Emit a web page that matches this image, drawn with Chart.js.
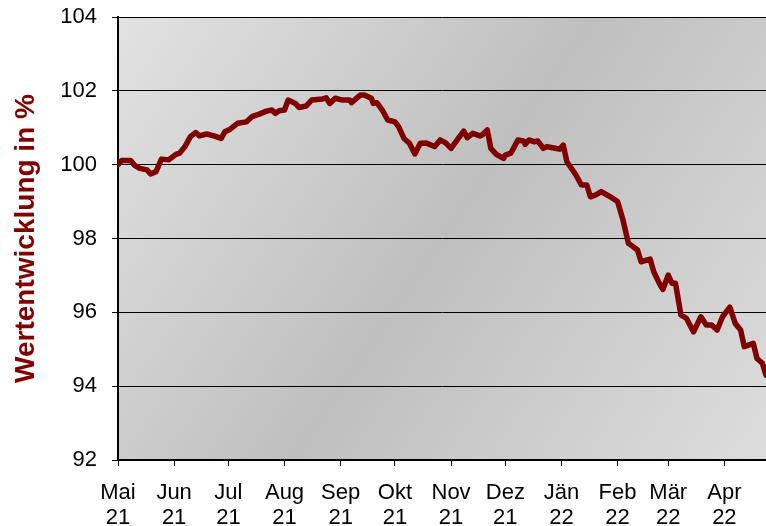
<!DOCTYPE html>
<html>
<head>
<meta charset="utf-8">
<script src="https://cdn.jsdelivr.net/npm/chart.js@4"></script>
<style>
  body { margin: 0; background: #fff; }
  #wrap { width: 766px; height: 526px; }
</style>
</head>
<body>
<div id="wrap"><canvas id="perfChart"></canvas></div>
<script>

// days since 1 May 2021
const dayOffsets = [0,2,7,9,12,16,18,21,24,28,32,34,37,40,43,45,49,53,57,59,
  62,66,71,74,78,82,85,87,89,92,94,98,100,104,107,113,115,117,120,124,
  128,129,134,136,140,141,143,146,149,153,155,158,161,164,167,170,175,178,181,184,
  188,191,193,196,200,201,204,206,209,213,214,217,219,221,224,225,227,230,232,235,
  237,240,244,246,248,253,256,259,261,264,267,272,276,279,282,284,287,289,294,296,
  299,301,304,306,308,311,314,318,322,325,328,331,334,338,341,344,346,351,353,356,358];

const values = [100.00,100.11,100.11,99.99,99.90,99.86,99.75,99.81,100.15,100.13,
  100.28,100.31,100.49,100.76,100.87,100.78,100.83,100.78,100.71,100.89,
  100.96,101.12,101.16,101.30,101.37,101.45,101.48,101.39,101.46,101.48,
  101.75,101.66,101.55,101.59,101.75,101.78,101.81,101.66,101.80,101.75,
  101.75,101.68,101.89,101.89,101.80,101.66,101.68,101.48,101.21,101.16,
  101.03,100.71,100.58,100.29,100.58,100.59,100.49,100.67,100.59,100.44,
  100.71,100.91,100.73,100.85,100.78,100.80,100.94,100.44,100.28,100.17,
  100.26,100.31,100.49,100.67,100.64,100.55,100.67,100.62,100.64,100.44,
  100.49,100.46,100.42,100.53,100.08,99.72,99.45,99.45,99.13,99.18,
  99.27,99.13,99.00,98.50,97.87,97.80,97.69,97.37,97.44,97.10,
  96.79,96.62,97.01,96.79,96.79,95.93,95.84,95.47,95.88,95.66,
  95.66,95.52,95.88,96.14,95.70,95.52,95.07,95.16,94.75,94.62,94.30];

const monthStarts = [0,31,61,92,123,153,184,214,245,276,304,335];
const monthNames = ["Mai","Jun","Jul","Aug","Sep","Okt","Nov","Dez","Jän","Feb","Mär","Apr"];
const yearLabels = ["21","21","21","21","21","21","21","21","22","22","22","22"];

const plotBackground = {
  id: "plotBackground",
  beforeDraw(chart) {
    const { ctx, chartArea: a } = chart;
    const g = ctx.createLinearGradient(a.left, a.top, a.right, a.bottom);
    g.addColorStop(0, "#e2e2e2");
    g.addColorStop(0.5, "#bfbfbf");
    g.addColorStop(1, "#dddddd");
    ctx.save();
    ctx.fillStyle = g;
    ctx.fillRect(a.left, a.top, a.right - a.left, a.bottom - a.top);
    ctx.restore();
  }
};

const font = { family: "'Liberation Sans', Arial, sans-serif", size: 22 };

new Chart(document.getElementById("perfChart"), {
  type: "line",
  data: {
    datasets: [{
      data: dayOffsets.map((d, i) => ({ x: d, y: values[i] })),
      borderColor: "#800000",
      borderWidth: 5.5,
      borderJoinStyle: "round",
      borderCapStyle: "round",
      pointRadius: 0,
      tension: 0,
      fill: false
    }]
  },
  options: {
    responsive: true,
    maintainAspectRatio: false,
    animation: false,
    layout: { padding: { top: 17, right: 0, left: 0, bottom: 0 } },
    plugins: {
      legend: { display: false },
      tooltip: { enabled: false }
    },
    scales: {
      x: {
        type: "linear",
        min: 0,
        max: 358,
        afterBuildTicks: scale => {
          scale.ticks = monthStarts.map(v => ({ value: v }));
        },
        afterFit: scale => {
          scale.height = 66;
          scale.paddingLeft = 0;
          scale.paddingRight = 0;
        },
        grid: {
          drawOnChartArea: false,
          drawTicks: true,
          tickLength: 6,
          color: "#000",
          lineWidth: 1
        },
        border: { color: "#000", width: 2 },
        ticks: {
          autoSkip: false,
          maxRotation: 0,
          padding: 14,
          color: "#000",
          font: { ...font, lineHeight: 1.15 },
          callback: value => {
            const i = monthStarts.indexOf(value);
            return i >= 0 ? [monthNames[i], yearLabels[i]] : "";
          }
        }
      },
      y: {
        min: 92,
        max: 104,
        afterFit: scale => {
          scale.width = 118;
          scale.paddingTop = 0;
          scale.paddingBottom = 0;
        },
        grid: {
          color: "#000",
          lineWidth: 1,
          tickLength: 6
        },
        border: { color: "#000", width: 2 },
        ticks: {
          stepSize: 2,
          padding: 15,
          color: "#000",
          font: font
        },
        title: {
          display: true,
          text: "Wertentwicklung in %",
          color: "#800000",
          font: { ...font, size: 28, weight: "bold" },
          padding: { top: 9, bottom: 0 }
        }
      }
    }
  },
  plugins: [plotBackground]
});

</script>
</body>
</html>
